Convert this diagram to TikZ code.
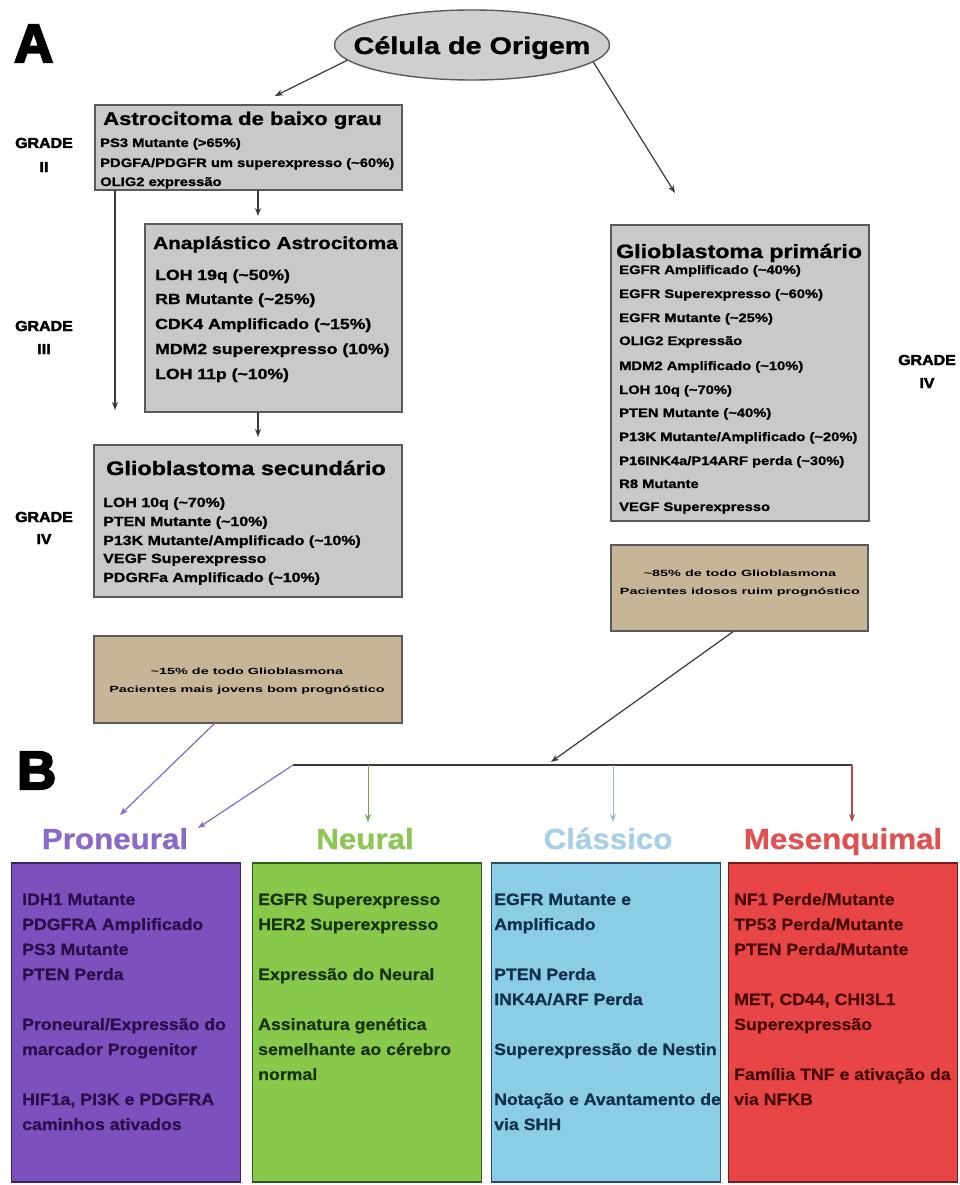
\documentclass[tikz,border=0pt]{standalone}
\usepackage{fontspec}
\setmainfont{Liberation Sans}[FakeStretch=1.2, BoldFeatures={FakeBold=1.2}]
\newfontfamily\lowfont{Liberation Sans}[FakeStretch=1.08, BoldFeatures={FakeBold=0.8}]
\newfontfamily\tanfont{Liberation Sans}[FakeStretch=1.6]
\newfontfamily\heavyfont{Liberation Sans}[BoldFeatures={FakeBold=4}]
\newfontfamily\gradefont{Liberation Sans}[FakeStretch=1.1, BoldFeatures={FakeBold=2.5}]
\usetikzlibrary{shapes.geometric,arrows.meta}
\newcommand\fsz[1]{\fontsize{#1}{#1}\selectfont}
\newcommand\tld{\textasciitilde}
\definecolor{boxgray}{HTML}{C9C9C9}
\definecolor{ellgray}{HTML}{CFCFCF}
\definecolor{bordgray}{HTML}{5A5A5A}
\definecolor{tanfill}{HTML}{C6B697}
\definecolor{arrgray}{HTML}{3A3A3A}
\definecolor{purpfill}{HTML}{7E50BE}
\definecolor{purpbord}{HTML}{3E2266}
\definecolor{purptxt}{HTML}{2A0E4A}
\definecolor{purplbl}{HTML}{8A6AC8}
\definecolor{grnfill}{HTML}{88C84A}
\definecolor{grnbord}{HTML}{2E5A1A}
\definecolor{grntxt}{HTML}{183410}
\definecolor{grnlbl}{HTML}{8CC654}
\definecolor{blufill}{HTML}{8CCDE6}
\definecolor{blubord}{HTML}{2A4A66}
\definecolor{blutxt}{HTML}{10304C}
\definecolor{blulbl}{HTML}{A6D0E6}
\definecolor{redfill}{HTML}{E84646}
\definecolor{redbord}{HTML}{7A1A1A}
\definecolor{redtxt}{HTML}{4A0A0A}
\definecolor{redlbl}{HTML}{E05252}
\tikzset{
  graybox/.style={draw=bordgray, fill=boxgray, line width=1.4pt, inner sep=0, rectangle},
  tanbox/.style={draw=bordgray, fill=tanfill, line width=1.4pt, inner sep=0, rectangle},
  colbox/.style={line width=1.4pt, inner sep=0, rectangle, minimum width=229pt, minimum height=319pt},
  txt/.style={anchor=base west, inner sep=0},
  ctxt/.style={anchor=base, inner sep=0},
  arr/.style={-{Stealth[length=8pt,width=6pt]}, line width=1.2pt, draw=arrgray},
  heavy/.style={anchor=base west, inner sep=0, font=\heavyfont\bfseries\fsz{54}},
  grade/.style={anchor=base, inner sep=0, font=\gradefont\bfseries\fsz{14.5}},
  sublbl/.style={anchor=base, inner sep=0, font=\lowfont\bfseries\fsz{29}},
  btxt/.style={anchor=base west, inner sep=0, font=\lowfont\bfseries\fsz{16.4}},
}
\begin{document}
\begin{tikzpicture}[x=1pt,y=-1pt]
\useasboundingbox (0,0) rectangle (959,1185);
\fill[white] (0,0) rectangle (959,1185);

% panel letters
\node[heavy] (lblA) at (14,62) {A};
\node[heavy] (lblB) at (17,789) {B};

% cell of origin
\node[ellipse, draw=bordgray, fill=ellgray, line width=1.4pt, minimum width=275pt, minimum height=70pt, inner sep=0] (cell) at (472,45) {};
\node[ctxt, font=\bfseries\fsz{24}] (celltxt) at (472,54) {Célula de Origem};

% boxes
\node[graybox, minimum width=307pt, minimum height=85pt] (astro) at (248.5,147.5) {};
\node[graybox, minimum width=257pt, minimum height=188pt] (anap) at (273.5,318) {};
\node[graybox, minimum width=308pt, minimum height=152pt] (sec) at (248,521) {};
\node[tanbox, minimum width=308pt, minimum height=87pt] (tanL) at (248,679.5) {};
\node[graybox, minimum width=258pt, minimum height=296pt] (prim) at (740,373) {};
\node[tanbox, minimum width=257pt, minimum height=86pt] (tanR) at (739.5,588) {};

% astrocitoma text
\node[txt, font=\bfseries\fsz{18.4}] (astroT) at (103,125) {Astrocitoma de baixo grau};
\node[txt, font=\bfseries\fsz{12.3}] (astro1) at (100,147) {PS3 Mutante (>65\%)};
\node[txt, font=\bfseries\fsz{12.3}] (astro2) at (100,167) {PDGFA/PDGFR um superexpresso (\tld60\%)};
\node[txt, font=\bfseries\fsz{12.3}] (astro3) at (100,186) {OLIG2 expressão};

% anaplastico text
\node[txt, font=\bfseries\fsz{17.3}] (anapT) at (153,249) {Anaplástico Astrocitoma};
\foreach \yy/\tt [count=\i] in {280/{LOH 19q (\tld50\%)}, 304/{RB Mutante (\tld25\%)}, 329/{CDK4 Amplificado (\tld15\%)}, 354/{MDM2 superexpresso (10\%)}, 379/{LOH 11p (\tld10\%)}}
  \node[txt, font=\bfseries\fsz{14.7}] (anap\i) at (155,\yy) {\tt};

% secundario text
\node[txt, font=\bfseries\fsz{19.5}] (secT) at (106,475) {Glioblastoma secundário};
\foreach \yy/\tt [count=\i] in {507/{LOH 10q (\tld70\%)}, 526/{PTEN Mutante (\tld10\%)}, 545/{P13K Mutante/Amplificado (\tld10\%)}, 563/{VEGF Superexpresso}, 582/{PDGRFa Amplificado (\tld10\%)}}
  \node[txt, font=\bfseries\fsz{13.3}] (sec\i) at (103,\yy) {\tt};

% primario text
\node[txt, font=\bfseries\fsz{19.3}] (primT) at (616,258) {Glioblastoma primário};
\foreach \yy/\tt [count=\i] in {274/{EGFR Amplificado (\tld40\%)}, 298/{EGFR Superexpresso (\tld60\%)}, 322/{EGFR Mutante (\tld25\%)}, 345/{OLIG2 Expressão}, 370/{MDM2 Amplificado (\tld10\%)}, 394/{LOH 10q (\tld70\%)}, 417/{PTEN Mutante (\tld40\%)}, 441/{P13K Mutante/Amplificado (\tld20\%)}, 465/{P16INK4a/P14ARF perda (\tld30\%)}, 488/{R8 Mutante}, 511/{VEGF Superexpresso}}
  \node[txt, font=\bfseries\fsz{12.3}] (prim\i) at (619,\yy) {\tt};

% tan texts
\node[ctxt, font=\tanfont\bfseries\fsz{9}] (tanL1) at (247,674) {\tld15\% de todo Glioblasmona};
\node[ctxt, font=\tanfont\bfseries\fsz{9}] (tanL2) at (247,692) {Pacientes mais jovens bom prognóstico};
\node[ctxt, font=\tanfont\bfseries\fsz{9}] (tanR1) at (740,576) {\tld85\% de todo Glioblasmona};
\node[ctxt, font=\tanfont\bfseries\fsz{9}] (tanR2) at (740,594) {Pacientes idosos ruim prognóstico};

% grade labels
\node[grade] (g2a) at (44,148) {GRADE};
\node[grade] (g2b) at (44,172) {II};
\node[grade] (g3a) at (44,331) {GRADE};
\node[grade] (g3b) at (44,354) {III};
\node[grade] (g4a) at (44,522) {GRADE};
\node[grade] (g4b) at (44,544) {IV};
\node[grade] (g4c) at (927,365) {GRADE};
\node[grade] (g4d) at (927,388) {IV};

% connectors part A
\coordinate (eA) at (275,96);
\coordinate (eB) at (675,193);
\draw[arr] (cell.187.6) -- (eA);
\draw[arr] (cell.352.3) -- (eB);
\coordinate (aS1) at (115,190);
\coordinate (aE1) at (115,410);
\draw[arr] (aS1) -- (aE1);
\coordinate (aS2) at (258,190);
\coordinate (aE2) at (258,216);
\draw[arr] (aS2) -- (aE2);
\coordinate (aS3) at (258,412);
\coordinate (aE3) at (258,437);
\draw[arr] (aS3) -- (aE3);

% subtype labels
\node[sublbl, text=purplbl] (pro) at (115,849) {Proneural};
\node[sublbl, text=grnlbl] (neu) at (365,849) {Neural};
\node[sublbl, text=blulbl] (cla) at (608,849) {Clássico};
\node[sublbl, text=redlbl] (mes) at (843,849) {Mesenquimal};

% hub
\coordinate (hubL) at (293,765);
\coordinate (hubN) at (368,765);
\coordinate (hubC) at (613,765);
\coordinate (hubR) at (852,765);
\coordinate (hubIn) at (551,762);
\coordinate (tanRout) at (734,631);
\coordinate (tanLout) at (215,723);
\coordinate (proE1) at (120,815);
\coordinate (proE2) at (198,828);
\coordinate (neuE) at (368,822);
\coordinate (claE) at (613,822);
\coordinate (mesE) at (852,822);
\draw[arr] (tanRout) -- (hubIn);
\draw[line width=1.6pt, draw=arrgray] (hubL) -- (hubR);
\draw[arr, draw=purplbl] (tanLout) -- (proE1);
\draw[arr, draw=purplbl] (hubL) -- (proE2);
\draw[arr, draw=grnlbl!85!black, line width=1pt] (hubN) -- (neuE);
\draw[arr, draw=blulbl!90!black, line width=1pt] (hubC) -- (claE);
\draw[arr, draw=redlbl!85!black, line width=1.1pt] (hubR) -- (mesE);

% bottom boxes
\node[colbox, draw=purpbord, fill=purpfill] (bpro) at (126,1022.5) {};
\node[colbox, draw=grnbord, fill=grnfill] (bneu) at (367,1022.5) {};
\node[colbox, draw=blubord, fill=blufill] (bcla) at (606,1022.5) {};
\node[colbox, draw=redbord, fill=redfill] (bmes) at (843,1022.5) {};

\foreach \yy/\tt [count=\i] in {905/{IDH1 Mutante}, 930/{PDGFRA Amplificado}, 955/{PS3 Mutante}, 980/{PTEN Perda}, 1030/{Proneural/Expressão do}, 1055/{marcador Progenitor}, 1105/{HIF1a, PI3K e PDGFRA}, 1130/{caminhos ativados}}
  \node[btxt, text=purptxt] (tp\i) at (22,\yy) {\tt};
\foreach \yy/\tt [count=\i] in {905/{EGFR Superexpresso}, 930/{HER2 Superexpresso}, 980/{Expressão do Neural}, 1030/{Assinatura genética}, 1055/{semelhante ao cérebro}, 1080/{normal}}
  \node[btxt, text=grntxt] (tn\i) at (258,\yy) {\tt};
\foreach \yy/\tt [count=\i] in {905/{EGFR Mutante e}, 930/{Amplificado}, 980/{PTEN Perda}, 1005/{INK4A/ARF Perda}, 1055/{Superexpressão de Nestin}, 1105/{Notação e Avantamento de}, 1130/{via SHH}}
  \node[btxt, text=blutxt] (tc\i) at (494,\yy) {\tt};
\foreach \yy/\tt [count=\i] in {905/{NF1 Perde/Mutante}, 930/{TP53 Perda/Mutante}, 955/{PTEN Perda/Mutante}, 1005/{MET, CD44, CHI3L1}, 1030/{Superexpressão}, 1080/{Família TNF e ativação da}, 1105/{via NFKB}}
  \node[btxt, text=redtxt] (tm\i) at (734,\yy) {\tt};
\end{tikzpicture}
\end{document}
